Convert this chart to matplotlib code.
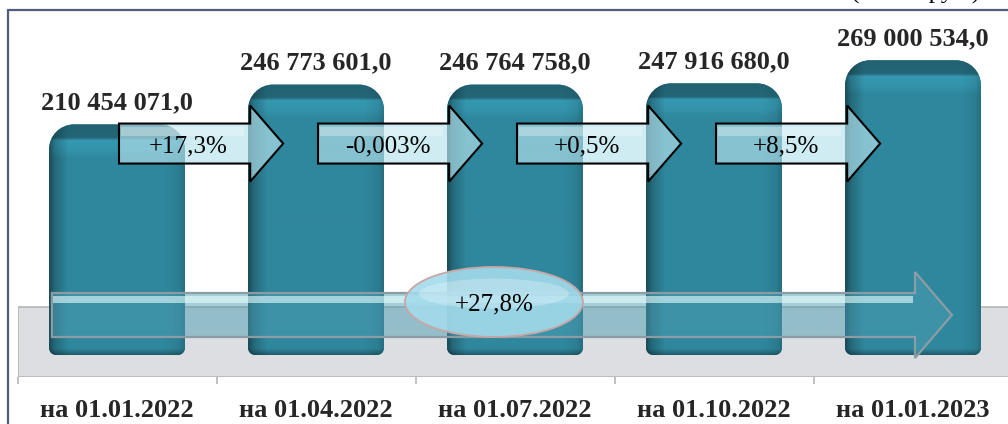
import numpy as np
import matplotlib.pyplot as plt
from matplotlib import patches
from matplotlib.path import Path

# Data (тыс. руб.)
dates = ['на 01.01.2022', 'на 01.04.2022', 'на 01.07.2022',
         'на 01.10.2022', 'на 01.01.2023']
values = [210454071.0, 246773601.0, 246764758.0, 247916680.0, 269000534.0]
step_changes = ['+17,3%', '-0,003%', '+0,5%', '+8,5%']
total_change = '+27,8%'
unit_label = '(в тыс. руб.)'

SERIF = ['Liberation Serif', 'DejaVu Serif']
BAR_COLOR = np.array([47, 135, 157]) / 255.0
TEXT_COLOR = '#262626'

vals = np.array(values) / 1e6

fig = plt.figure(figsize=(10.08, 4.24), dpi=100)
ax = fig.add_axes([17.5 / 1008, 47 / 424, 995 / 1008, 367 / 424])
ax.set_xlim(-0.5, 4.5)
ax.set_ylim(-20.1, 314.9)
ax.set_facecolor('none')

# size of one pixel in data units
px_x = 5.0 / 995
px_y = 335.0 / 367


def bar_path(x0, x1, y0, y1, rt, rb):
    """rounded bar outline, rt/rb corner radii in pixels"""
    k = 0.5523
    tx, ty = rt * px_x, rt * px_y
    bx, by = rb * px_x, rb * px_y
    verts = [
        (x0, y0 + by), (x0, y1 - ty),
        (x0, y1 - ty + k * ty), (x0 + tx - k * tx, y1), (x0 + tx, y1),
        (x1 - tx, y1),
        (x1 - tx + k * tx, y1), (x1, y1 - ty + k * ty), (x1, y1 - ty),
        (x1, y0 + by),
        (x1, y0 + by - k * by), (x1 - bx + k * bx, y0), (x1 - bx, y0),
        (x0 + bx, y0),
        (x0 + bx - k * bx, y0), (x0, y0 + by - k * by), (x0, y0 + by),
        (x0, y0 + by),
    ]
    codes = [Path.MOVETO, Path.LINETO,
             Path.CURVE4, Path.CURVE4, Path.CURVE4,
             Path.LINETO,
             Path.CURVE4, Path.CURVE4, Path.CURVE4,
             Path.LINETO,
             Path.CURVE4, Path.CURVE4, Path.CURVE4,
             Path.LINETO,
             Path.CURVE4, Path.CURVE4, Path.CURVE4,
             Path.CLOSEPOLY]
    return Path(verts, codes)


def bar_shade(h, w):
    t = np.linspace(0, 1, w)
    horiz = np.interp(t, [0, 0.04, 0.14, 0.86, 0.96, 1],
                      [0.55, 0.78, 1.0, 1.0, 0.93, 0.82])
    d = np.arange(h)
    vert = np.interp(d, [0, 13, 16, 24, 34, h - 7, h - 1],
                     [0.72, 0.76, 1.12, 1.1, 1.0, 1.0, 0.7])
    img = BAR_COLOR[None, None, :] * horiz[None, :, None] * vert[:, None, None]
    return np.clip(img, 0, 1)


# grey floor
floor = patches.Rectangle((-0.5, -20.1), 5.3, 43.8 + 20.1,
                          facecolor='#dcdee2', edgecolor='#b4b6ba',
                          lw=1.2, zorder=1)
ax.add_patch(floor)

# bars
bar_w = 0.683
for i, v in enumerate(vals):
    x0, x1 = i - bar_w / 2, i + bar_w / 2
    path = bar_path(x0, x1, 0, v, 25, 7)
    pp = patches.PathPatch(path, facecolor=BAR_COLOR, edgecolor='none', zorder=2)
    ax.add_patch(pp)
    h_px = int(round(v / px_y))
    im = ax.imshow(bar_shade(h_px, 136), extent=(x0, x1, 0, v),
                   aspect='auto', zorder=2.1, interpolation='bilinear')
    im.set_clip_path(pp)
    label = f'{values[i]:,.1f}'.replace(',', ' ').replace('.', ',')
    ax.annotate(label, (i, v), xytext=(0, 11), textcoords='offset points',
                ha='center', va='baseline', fontsize=19, fontweight='bold',
                family=SERIF, color=TEXT_COLOR, zorder=6)

# small arrows between bars
arrow_y = 193
for i, txt in enumerate(step_changes):
    arr = patches.FancyArrow(i + 0.01, arrow_y, 0.825, 0,
                             width=40 * px_y, head_width=76 * px_y,
                             head_length=33 * px_x, length_includes_head=True,
                             facecolor=(0.71, 0.886, 0.925, 0.65),
                             edgecolor='black', lw=1.5, zorder=4)
    ax.add_patch(arr)
    # highlight on top of arrow body
    ax.add_patch(patches.Rectangle((i + 0.02, arrow_y + 8 * px_y), 0.62, 9 * px_y,
                                   facecolor=(1, 1, 1, 0.3), edgecolor='none',
                                   zorder=4.1))
    ax.text(i + 0.36, arrow_y, txt, ha='center', va='center_baseline',
            fontsize=18, family=SERIF, color='black', zorder=5)

# big arrow for the whole period
big_y = 36.5
big = patches.FancyArrow(-0.327, big_y, 4.523, 0,
                         width=44 * px_y, head_width=86 * px_y,
                         head_length=37 * px_x, length_includes_head=True,
                         facecolor=(0.3, 0.62, 0.7, 0.5),
                         edgecolor='#8c9ca4', lw=1.6, zorder=3)
ax.add_patch(big)
ax.add_patch(patches.Rectangle((-0.32, big_y + 12 * px_y), 4.32, 7 * px_y,
                               facecolor=(0.9, 1, 1, 0.6), edgecolor='none',
                               zorder=3.1))

ell = patches.Ellipse((1.894, 48.4), 178 * px_x, 70 * px_y,
                      facecolor=(0.64, 0.86, 0.92, 0.9), edgecolor='#c9a5a5',
                      lw=1.3, zorder=4)
ax.add_patch(ell)
ax.add_patch(patches.Ellipse((1.894, 56), 150 * px_x, 30 * px_y,
                             facecolor=(1, 1, 1, 0.25), edgecolor='none',
                             zorder=4.1))
ax.text(1.894, 48.4, total_change, ha='center', va='center_baseline',
        fontsize=18, family=SERIF, color='black', zorder=5)

# axis
for s in ax.spines.values():
    s.set_visible(False)
ax.set_yticks([])
ax.set_xticks(range(len(dates)))
ax.set_xticklabels(dates, fontsize=19, fontweight='bold', family=SERIF,
                   color=TEXT_COLOR)
ax.tick_params(axis='x', which='major', length=0, pad=16)
ax.set_xticks(np.arange(-0.5, 5, 1.0), minor=True)
ax.tick_params(axis='x', which='minor', length=5, width=1.2, color='#b4b6ba')

# frame and unit label (cut off at the top, as in the source)
fig.add_artist(patches.Rectangle((8 / 1008, -0.1), 1.1, 1.1 - 10 / 424,
                                 transform=fig.transFigure, fill=False,
                                 edgecolor='#4d5d7a', lw=1.6))
fig.text(851 / 1008, 1 + 2 / 424, unit_label, ha='left', va='baseline',
         fontsize=18, family=SERIF, color='black')

fig.savefig('out.png', dpi=100)
